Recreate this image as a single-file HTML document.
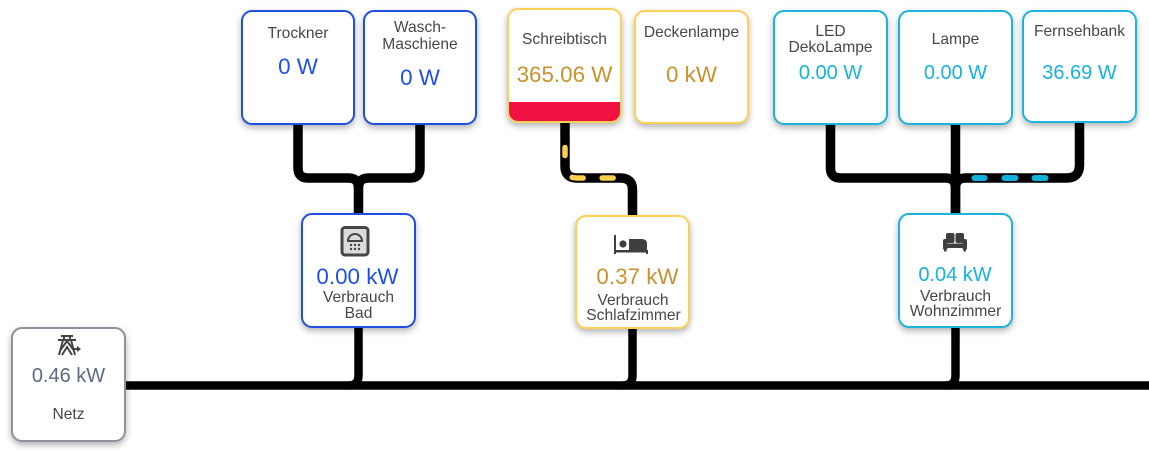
<!DOCTYPE html>
<html>
<head>
<meta charset="utf-8">
<style>
  html, body { margin:0; padding:0; background:#ffffff; }
  body { width:1149px; height:461px; position:relative; overflow:hidden;
         font-family:"Liberation Sans", Arial, sans-serif; }
  .box { position:absolute; box-sizing:border-box; border:2.5px solid; border-radius:11px;
         background:#fff; box-shadow:0 3px 7px rgba(0,0,0,0.3); overflow:hidden; }
  .blue { border-color:#1f4fe0; }
  .yel { border-color:#fcd15a; }
  .cyan { border-color:#1cb4dc; }
  .gray { border-color:#8d929d; }
  .t { position:absolute; width:200px; text-align:center; white-space:nowrap; line-height:1; }
  .ti { font-size:15.6px; color:#474747; }
  .v22 { font-size:22.4px; }
  .v20 { font-size:20px; }
  .cb { color:#2150e6; }
  .cg { color:#c8922f; }
  .cc { color:#15b3dd; }
  .cn { color:#5f6a80; }
  svg { position:absolute; left:0; top:0; }
</style>
</head>
<body>

<!-- connector lines -->
<svg width="1149" height="461" viewBox="0 0 1149 461">
  <g fill="none" stroke="#000" stroke-width="8.5">
    <path d="M120 385.5 H1149"/>
    <path d="M358.5 320 V375.5 Q358.5 385.5 348.5 385.5"/>
    <path d="M632.5 320 V375.5 Q632.5 385.5 622.5 385.5"/>
    <path d="M955.5 320 V375.5 Q955.5 385.5 945.5 385.5"/>
  </g>
  <g fill="none" stroke="#000" stroke-width="9.5">
    <!-- Bad group -->
    <path d="M298 120 V168 Q298 178 308 178 H348.5 Q358.5 178 358.5 188 V220"/>
    <path d="M420 120 V168 Q420 178 410 178 H368.5 Q358.5 178 358.5 188"/>
    <!-- Schlafzimmer -->
    <path d="M565 118 V166 Q565 178 577 178 H620.5 Q632.5 178 632.5 190 V220"/>
    <!-- Wohnzimmer -->
    <path d="M830.5 120 V168 Q830.5 178 840.5 178 H945.5 Q955.5 178 955.5 188 V220"/>
    <path d="M955.5 120 V220"/>
    <path d="M1079.5 118 V165 Q1079.5 178 1066.5 178 H965.5 Q955.5 178 955.5 188"/>
  </g>
  <!-- yellow dashes -->
  <path d="M565 123 V166 Q565 178 577 178 H620" fill="none" stroke="#fdcf4e" stroke-width="5.5"
        stroke-linecap="round" stroke-dasharray="8 25 11 19 11 300" stroke-dashoffset="-24.5"/>
  <!-- cyan dashes -->
  <g stroke="#10b2dc" stroke-width="6" stroke-linecap="round">
    <line x1="974.5" y1="178" x2="984.5" y2="178"/>
    <line x1="1004.5" y1="178" x2="1015.5" y2="178"/>
    <line x1="1034.5" y1="178" x2="1045.5" y2="178"/>
  </g>
</svg>

<!-- top row boxes -->
<div class="box blue" style="left:241px;top:10px;width:114px;height:115px;"></div>
<div class="box blue" style="left:363px;top:10px;width:114px;height:115px;"></div>
<div class="box yel" style="left:507px;top:8px;width:115px;height:115px;">
  <div style="position:absolute;left:0;right:0;bottom:0;height:19px;background:#ef1140;"></div>
</div>
<div class="box yel" style="left:634px;top:10px;width:115px;height:114px;"></div>
<div class="box cyan" style="left:773px;top:10px;width:115px;height:115px;"></div>
<div class="box cyan" style="left:898px;top:10px;width:115px;height:115px;"></div>
<div class="box cyan" style="left:1022px;top:10px;width:115px;height:113px;"></div>

<!-- bottom boxes -->
<div class="box blue" style="left:301px;top:213px;width:115px;height:115px;"></div>
<div class="box yel" style="left:575px;top:215px;width:115px;height:114px;"></div>
<div class="box cyan" style="left:898px;top:213px;width:115px;height:115px;"></div>
<div class="box gray" style="left:11px;top:327px;width:115px;height:115px;"></div>

<!-- top row text -->
<div class="t ti" style="left:198px;top:25.8px;">Trockner</div>
<div class="t v22 cb" style="left:198px;top:56.4px;">0 W</div>

<div class="t ti" style="left:320px;top:19.8px;">Wasch-</div>
<div class="t ti" style="left:320px;top:36.8px;">Maschiene</div>
<div class="t v22 cb" style="left:320px;top:67.4px;">0 W</div>

<div class="t ti" style="left:464.5px;top:31.8px;">Schreibtisch</div>
<div class="t v22 cg" style="left:464.5px;top:64.4px;">365.06 W</div>

<div class="t ti" style="left:591.5px;top:24.8px;">Deckenlampe</div>
<div class="t v22 cg" style="left:591.5px;top:64.4px;">0 kW</div>

<div class="t ti" style="left:730.5px;top:23.8px;">LED</div>
<div class="t ti" style="left:730.5px;top:39.8px;">DekoLampe</div>
<div class="t v20 cc" style="left:730.5px;top:63.1px;">0.00 W</div>

<div class="t ti" style="left:855.5px;top:31.8px;">Lampe</div>
<div class="t v20 cc" style="left:855.5px;top:63.1px;">0.00 W</div>

<div class="t ti" style="left:979.5px;top:23.8px;">Fernsehbank</div>
<div class="t v20 cc" style="left:979.5px;top:63.1px;">36.69 W</div>

<!-- bottom text -->
<div class="t v22 cb" style="left:257.5px;top:266.4px;">0.00 kW</div>
<div class="t ti" style="left:258.5px;top:289.8px;">Verbrauch</div>
<div class="t ti" style="left:258.5px;top:305.8px;">Bad</div>

<div class="t v22 cg" style="left:537.5px;top:266.4px;">0.37 kW</div>
<div class="t ti" style="left:533px;top:292.8px;">Verbrauch</div>
<div class="t ti" style="left:533.5px;top:308.3px;">Schlafzimmer</div>

<div class="t v20 cc" style="left:855px;top:265.1px;">0.04 kW</div>
<div class="t ti" style="left:855.5px;top:288.8px;">Verbrauch</div>
<div class="t ti" style="left:855.5px;top:304.3px;">Wohnzimmer</div>

<div class="t v20 cn" style="left:-31.5px;top:366.1px;">0.46 kW</div>
<div class="t ti" style="left:-31.5px;top:406.8px;">Netz</div>

<!-- icons -->
<svg width="1149" height="461" viewBox="0 0 1149 461">
  <!-- shower -->
  <rect x="342" y="227.5" width="26" height="27.5" rx="3" fill="#dcdcdc" stroke="#454545" stroke-width="3"/>
  <path d="M348 241 A7 7 0 0 1 362 241 Z" fill="none" stroke="#454545" stroke-width="2"/>
  <line x1="347" y1="241" x2="363" y2="241" stroke="#454545" stroke-width="1.5"/>
  <g fill="#454545">
    <circle cx="351" cy="245" r="1.2"/><circle cx="355" cy="245" r="1.2"/><circle cx="359" cy="245" r="1.2"/>
    <circle cx="351" cy="249" r="1.2"/><circle cx="355" cy="249" r="1.2"/><circle cx="359" cy="249" r="1.2"/>
  </g>
  <!-- transmission tower -->
  <g stroke="#454545" stroke-width="2" fill="none">
    <line x1="61" y1="336" x2="73" y2="336"/>
    <line x1="58" y1="340" x2="76" y2="340"/>
    <line x1="64" y1="336" x2="64" y2="340"/>
    <line x1="70" y1="336" x2="70" y2="340"/>
    <path d="M63 340 L59 355 M71 340 L75 355 M60.5 350 L67 341 L73.5 350"/>
    <path d="M62 355 L67 347 L72 355"/>
    <line x1="73" y1="349" x2="80" y2="349"/>
  </g>
  <path d="M77 346 L81 349 L77 352 Z" fill="#454545"/>
  <!-- bed -->
  <g fill="#3f3f3f">
    <rect x="614" y="235" width="2" height="19"/>
    <rect x="614" y="250" width="34" height="2.5"/>
    <rect x="646" y="250" width="2" height="4"/>
    <circle cx="623" cy="244" r="3.6"/>
    <path d="M629 239 H642 Q647 239 647 244 V250 H629 Z"/>
  </g>
  <!-- sofa -->
  <g fill="#3f3f3f">
    <rect x="946" y="233" width="8.5" height="10" rx="2"/>
    <rect x="955.5" y="233" width="8.5" height="10" rx="2"/>
    <rect x="943" y="239" width="4.5" height="11" rx="2"/>
    <rect x="962.5" y="239" width="4.5" height="11" rx="2"/>
    <rect x="946" y="243.5" width="18" height="4.5"/>
    <rect x="944" y="249" width="2.5" height="2.5"/>
    <rect x="963.5" y="249" width="2.5" height="2.5"/>
  </g>
</svg>

</body>
</html>
